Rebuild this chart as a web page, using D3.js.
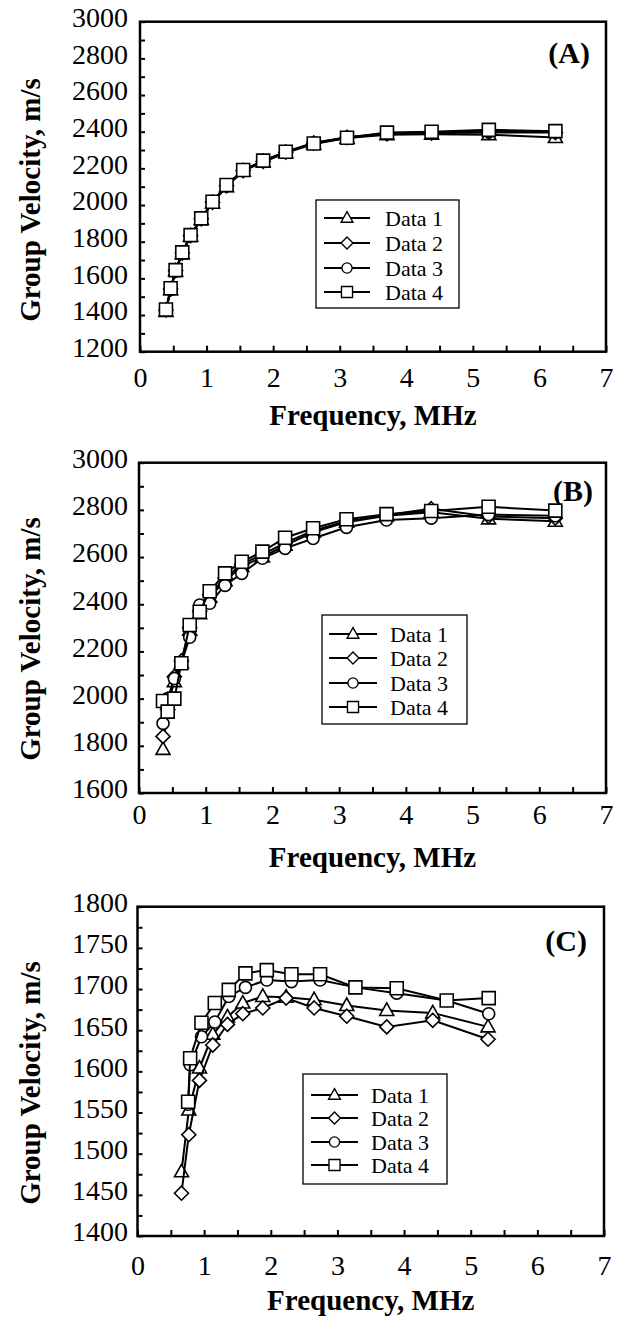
<!DOCTYPE html>
<html><head><meta charset="utf-8">
<script src="https://cdn.jsdelivr.net/npm/d3@7"></script>
<style>
body{margin:0;background:#fff;}
svg text{font-family:"Liberation Serif","Times New Roman","DejaVu Serif",Times,serif !important;fill:#000;}
</style>
</head><body>
<svg id="chart" width="630" height="1317"></svg>
<script>
// ---------- data ----------
const seriesNames = ["Data 1", "Data 2", "Data 3", "Data 4"];
const seriesSymbols = ["triangle", "diamond", "circle", "square"];
const xTickValues = [0, 1, 2, 3, 4, 5, 6, 7];
const yTicksA = [1200, 1400, 1600, 1800, 2000, 2200, 2400, 2600, 2800, 3000];
const yTicksB = [1600, 1800, 2000, 2200, 2400, 2600, 2800, 3000];
const yTicksC = [1400, 1450, 1500, 1550, 1600, 1650, 1700, 1750, 1800];

// Panel A
const freqA = [0.39, 0.46, 0.535, 0.635, 0.76, 0.92, 1.09, 1.30, 1.55, 1.85, 2.19, 2.61, 3.11, 3.71, 4.38, 5.24, 6.24];
const velA1 = [1420, 1538, 1640, 1735, 1830, 1922, 2012, 2100, 2185, 2235, 2285, 2333, 2365, 2383, 2386, 2384, 2368];
const velA2 = [1428, 1542, 1642, 1738, 1833, 1925, 2015, 2105, 2188, 2238, 2288, 2338, 2368, 2388, 2392, 2396, 2395];
const velA3 = [1425, 1540, 1640, 1740, 1835, 1925, 2015, 2105, 2190, 2240, 2290, 2340, 2370, 2392, 2396, 2402, 2398];
const velA4 = [1430, 1546, 1645, 1742, 1836, 1927, 2018, 2109, 2191, 2242, 2291, 2336, 2367, 2395, 2400, 2410, 2403];

// Panel B
const freqB = [0.36, 0.43, 0.53, 0.635, 0.76, 0.91, 1.06, 1.29, 1.54, 1.85, 2.19, 2.61, 3.11, 3.71, 4.38, 5.24, 6.24];
const velB1 = [1785, 1975, 2072, 2150, 2290, 2360, 2430, 2500, 2560, 2600, 2650, 2705, 2748, 2775, 2790, 2762, 2752];
const velB2 = [1840, 1985, 2093, 2160, 2300, 2370, 2440, 2510, 2570, 2610, 2660, 2712, 2752, 2778, 2805, 2772, 2765];
const velB3 = [1895, 2000, 2085, 2150, 2260, 2397, 2404, 2480, 2531, 2595, 2637, 2679, 2726, 2757, 2765, 2780, 2775];
const velB4 = [1990, 1945, 2000, 2150, 2312, 2368, 2455, 2531, 2580, 2623, 2682, 2722, 2760, 2782, 2795, 2813, 2797];

// Panel C
const freqC12 = [0.66, 0.77, 0.93, 1.13, 1.35, 1.58, 1.88, 2.23, 2.65, 3.14, 3.74, 4.43, 5.26];
const freqC34 = [0.76, 0.79, 0.96, 1.16, 1.37, 1.62, 1.94, 2.31, 2.74, 3.27, 3.89, 4.64, 5.27];
const velC1 = [1478, 1553, 1604, 1645, 1666, 1683, 1691, 1690, 1687, 1680, 1674, 1671, 1654];
const velC2 = [1452, 1523, 1589, 1632, 1657, 1670, 1677, 1689, 1677, 1667, 1654, 1662, 1639];
const velC3 = [1560, 1608, 1642, 1660, 1691, 1702, 1711, 1709, 1711, 1702, 1695, 1686, 1670];
const velC4 = [1563, 1616, 1659, 1683, 1699, 1719, 1723, 1718, 1718, 1702, 1701, 1686, 1689];

// ---------- layout ----------
const panels = [
  {tag: "(A)", yTicks: yTicksA, yMinorStep: 100,
   freqs: [freqA, freqA, freqA, freqA], vels: [velA1, velA2, velA3, velA4],
   L: 140, R: 606, T: 21.7, B: 351.7, xLabelY: 377, xTitleY: 415, yTitleY: 200,
   tagX: 590, tagY: 52,
   leg: {x: 316, y: 200, w: 143, h: 108, rows: [218, 243, 268, 292], lx1: 324, lx2: 370, tx: 385}},
  {tag: "(B)", yTicks: yTicksB, yMinorStep: 100,
   freqs: [freqB, freqB, freqB, freqB], vels: [velB1, velB2, velB3, velB4],
   L: 139, R: 606, T: 462.7, B: 793, xLabelY: 814, xTitleY: 857, yTitleY: 639,
   tagX: 593, tagY: 490,
   leg: {x: 322, y: 615, w: 145, h: 109, rows: [634, 658, 683, 707], lx1: 329, lx2: 377, tx: 390}},
  {tag: "(C)", yTicks: yTicksC, yMinorStep: 25,
   freqs: [freqC12, freqC12, freqC34, freqC34], vels: [velC1, velC2, velC3, velC4],
   L: 137.5, R: 604, T: 906.7, B: 1236, xLabelY: 1265, xTitleY: 1300, yTitleY: 1083,
   tagX: 587, tagY: 940,
   leg: {x: 303, y: 1074, w: 144, h: 110, rows: [1095, 1118, 1142, 1165], lx1: 311, lx2: 358, tx: 371}}
];

const svg = d3.select("#chart");
const SERIF = "'Liberation Serif','Times New Roman','DejaVu Serif',Times,serif";

function symbolPath(kind) {
  switch (kind) {
    case "triangle": return "M0,-7.5L7,5L-7,5Z";
    case "diamond": return "M0,-7L7,0L0,7L-7,0Z";
    case "circle": return d3.symbol(d3.symbolCircle, Math.PI * 36)();
    default: return "M-6.5,-6.5H6.5V6.5H-6.5Z";
  }
}

panels.forEach(p => {
  const g = svg.append("g").attr("font-family", SERIF);
  const yMin = d3.min(p.yTicks), yMax = d3.max(p.yTicks);
  const x = d3.scaleLinear().domain([0, 7]).range([p.L, p.R]);
  const y = d3.scaleLinear().domain([yMin, yMax]).range([p.B, p.T]);

  // ticks, inward
  const xMinor = d3.range(0, 7.001, 0.5);
  g.append("g").attr("transform", `translate(0,${p.B})`)
    .call(d3.axisBottom(x).tickValues(xMinor).tickSize(-6).tickFormat(""))
    .call(a => a.select(".domain").remove())
    .call(a => a.selectAll("line").attr("stroke", "#000").attr("stroke-width", 2));
  const yMinor = d3.range(yMin, yMax + 0.001, p.yMinorStep);
  g.append("g").attr("transform", `translate(${p.L},0)`)
    .call(d3.axisLeft(y).tickValues(yMinor).tickSize(-5).tickFormat(""))
    .call(a => a.select(".domain").remove())
    .call(a => a.selectAll("line").attr("stroke", "#000").attr("stroke-width", 2));

  // tick labels
  const xa = g.append("g").attr("transform", `translate(0,${p.xLabelY})`)
    .call(d3.axisBottom(x).tickValues(xTickValues).tickSize(0).tickPadding(0).tickFormat(d3.format("d")));
  xa.attr("font-family", SERIF);
  xa.select(".domain").remove();
  xa.selectAll("text").attr("y", 0).attr("dy", "0.35em")
    .style("font-size", "28px");

  const ya = g.append("g").attr("transform", `translate(128,-5)`)
    .call(d3.axisLeft(y).tickValues(p.yTicks).tickSize(0).tickPadding(0).tickFormat(d3.format("d")));
  ya.attr("font-family", SERIF);
  ya.select(".domain").remove();
  ya.selectAll("text").attr("x", 0).attr("dy", "0.35em")
    .style("font-size", "28px");

  // frame
  g.append("rect").attr("x", p.L).attr("y", p.T)
    .attr("width", p.R - p.L).attr("height", p.B - p.T)
    .attr("fill", "none").attr("stroke", "#000").attr("stroke-width", 2.5);

  // titles
  g.append("text").attr("x", (p.L + p.R) / 2).attr("y", p.xTitleY).attr("dy", "0.35em")
    .attr("text-anchor", "middle").style("font-size", "29px").style("font-weight", "bold")
    .text("Frequency, MHz");
  g.append("text").attr("transform", `translate(30,${p.yTitleY}) rotate(-90)`)
    .attr("dy", "0.35em").attr("text-anchor", "middle")
    .style("font-size", "29px").style("font-weight", "bold")
    .text("Group Velocity, m/s");
  g.append("text").attr("x", p.tagX).attr("y", p.tagY).attr("dy", "0.35em")
    .attr("text-anchor", "end").style("font-size", "30px").style("font-weight", "bold")
    .text(p.tag);

  // series
  const line = d3.line().x(d => x(d[0])).y(d => y(d[1]));
  seriesNames.forEach((name, i) => {
    const pts = p.freqs[i].map((f, j) => [f, p.vels[i][j]]);
    g.append("path").datum(pts).attr("d", line)
      .attr("fill", "none").attr("stroke", "#000").attr("stroke-width", 2);
    g.selectAll(null).data(pts).enter().append("path")
      .attr("d", symbolPath(seriesSymbols[i]))
      .attr("transform", d => `translate(${x(d[0])},${y(d[1])})`)
      .attr("fill", "#fff").attr("stroke", "#000").attr("stroke-width", 1.6);
  });

  // legend
  const lg = p.leg;
  g.append("rect").attr("x", lg.x).attr("y", lg.y).attr("width", lg.w).attr("height", lg.h)
    .attr("fill", "#fff").attr("stroke", "#000").attr("stroke-width", 1.3);
  seriesNames.forEach((name, i) => {
    const ry = lg.rows[i];
    g.append("line").attr("x1", lg.lx1).attr("x2", lg.lx2).attr("y1", ry).attr("y2", ry)
      .attr("stroke", "#000").attr("stroke-width", 2);
    g.append("path").attr("d", symbolPath(seriesSymbols[i]))
      .attr("transform", `translate(${(lg.lx1 + lg.lx2) / 2},${ry}) scale(0.85)`)
      .attr("fill", "#fff").attr("stroke", "#000").attr("stroke-width", 1.6);
    g.append("text").attr("x", lg.tx).attr("y", ry).attr("dy", "0.35em")
      .style("font-size", "22px").text(name);
  });
});
</script>
</body></html>
